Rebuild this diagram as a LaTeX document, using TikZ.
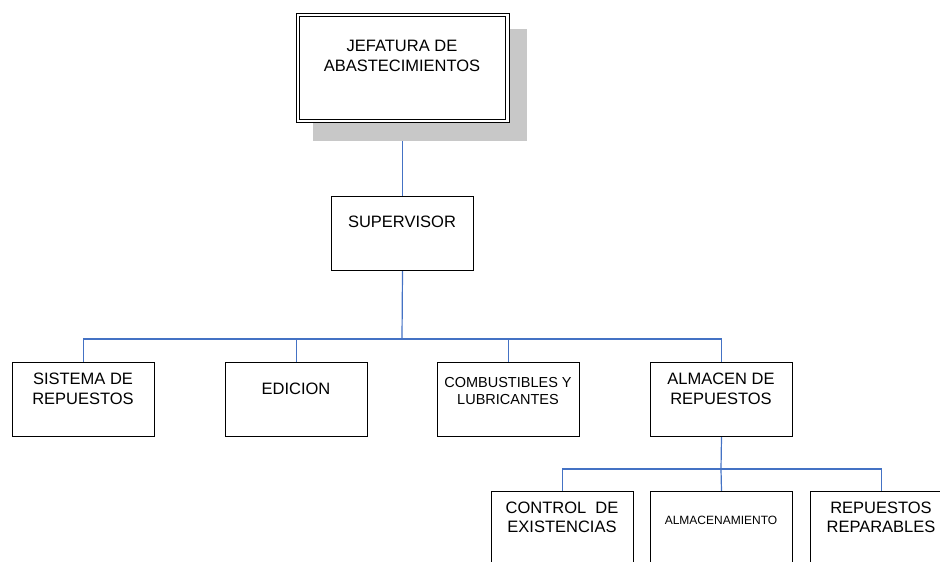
\documentclass[tikz,border=0pt]{standalone}
\usepackage{fontspec}
\setmainfont{Liberation Sans}
\definecolor{connblue}{HTML}{4472C4}
\definecolor{shadegray}{HTML}{C8C8C8}
\pgfdeclarelayer{bg}
\pgfsetlayers{bg,main}
\begin{document}
\begin{tikzpicture}[x=1pt,y=-1pt,
  box/.style={draw=black,line width=1pt,fill=white,minimum width=142pt,minimum height=74pt,inner sep=0pt,anchor=north west},
  lbl/.style={font=\fontsize{16.5}{19.5}\selectfont,align=center,inner sep=0pt,anchor=north},
  link/.style={draw=connblue,line width=1.2pt}]
\useasboundingbox (0,0) rectangle (940,562);
\clip (0,0) rectangle (940,562);
% shadow of top box
\fill[shadegray] (313,29) rectangle (527,141);
% top box
\node[draw=black,line width=1pt,double=white,double distance=2.5pt,fill=white,
      minimum width=209.5pt,minimum height=106pt,inner sep=0pt,anchor=north west] (jef) at (297.25,14.25) {};
\node[lbl,font=\fontsize{16.5}{20}\selectfont] (jeft) at (402,40) {JEFATURA DE\\ABASTECIMIENTOS};
% supervisor
\node[box] (sup) at (331,196) {};
\node[lbl] (supt) at (402,216) {SUPERVISOR};
% level 2
\node[box] (sis) at (12,362) {};
\node[box] (edi) at (225,362) {};
\node[box] (com) at (437,362) {};
\node[box] (alm) at (650,362) {};
\node[lbl] (sist) at (83,373) {SISTEMA DE\\REPUESTOS};
\node[lbl] (edit) at (296,383) {EDICION};
\node[lbl,font=\fontsize{14.5}{17}\selectfont] (comt) at (508,377) {COMBUSTIBLES Y\\LUBRICANTES};
\node[lbl] (almt) at (721,373) {ALMACEN DE\\REPUESTOS};
% level 3
\node[box,minimum height=90pt] (ctl) at (491,491) {};
\node[box,minimum height=90pt] (amt) at (650,491) {};
\node[box,minimum height=90pt] (rep) at (810,491) {};
\node[lbl] (ctlt) at (562,501.7) {CONTROL\ \ DE\\EXISTENCIAS};
\node[lbl,font=\fontsize{12}{14}\selectfont] (amtt) at (721,516) {ALMACENAMIENTO};
\node[lbl] (rept) at (881,501.7) {REPUESTOS\\REPARABLES};
% connectors
\coordinate (b1) at (402,339);
\coordinate (b2) at (721,469);
\begin{pgfonlayer}{bg}
\draw[link] (jef.south) -- (sup.north);
\draw[link] (sup.south) -- (b1);
\draw[link] (b1) -| (sis.north);
\draw[link] (b1) -| (edi.north);
\draw[link] (b1) -| (com.north);
\draw[link] (b1) -| (alm.north);
\draw[link] (alm.south) -- (b2);
\draw[link] (b2) -| (ctl.north);
\draw[link] (b2) -- (amt.north);
\draw[link] (b2) -| (rep.north);
\end{pgfonlayer}
\end{tikzpicture}
\end{document}
